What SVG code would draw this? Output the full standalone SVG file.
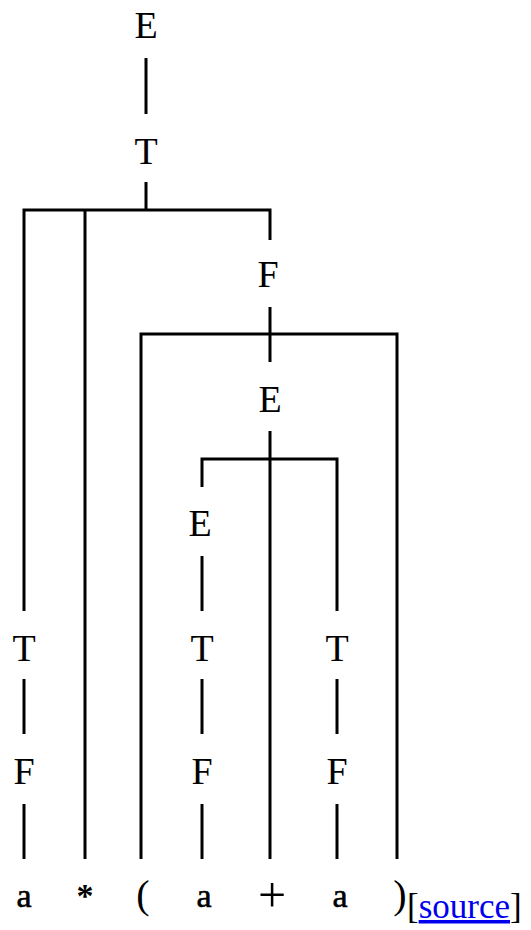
<svg xmlns="http://www.w3.org/2000/svg" width="531" height="930" viewBox="0 0 531 930">
<style>
  .nt { font-family: "Liberation Serif", "Times New Roman", serif; font-size: 38px; text-anchor: middle; fill: #000; }
  .tm { font-family: "Liberation Serif", "Times New Roman", serif; font-size: 34px; text-anchor: middle; fill: #000; }
  .heavy { stroke: #000; stroke-width: 0.6; }
  .bold { font-weight: bold; }
  .edge { fill: none; stroke: #000; stroke-width: 3; stroke-linecap: butt; stroke-linejoin: miter; }
  .src { font-family: "Liberation Serif", "Times New Roman", serif; font-size: 35px; fill: #000; }
  .link { fill: #0000EE; text-decoration: underline; }
</style>
<rect width="531" height="930" fill="#fff"/>
<g id="connectors">
  <path class="edge" d="M146 58 V114"/>
  <path class="edge" d="M146 182 V210"/>
  <path class="edge" d="M24 611 V210 H270 V240"/>
  <path class="edge" d="M85 210 V859"/>
  <path class="edge" d="M270 307 V362"/>
  <path class="edge" d="M141 859 V334 H397 V859"/>
  <path class="edge" d="M270 431 V859"/>
  <path class="edge" d="M202 487 V459 H337 V611"/>
  <path class="edge" d="M202 556 V611"/>
  <path class="edge" d="M24 679 V734"/>
  <path class="edge" d="M202 679 V734"/>
  <path class="edge" d="M337 679 V734"/>
  <path class="edge" d="M24 804 V859"/>
  <path class="edge" d="M202 804 V859"/>
  <path class="edge" d="M337 804 V859"/>
</g>
<g id="n-E0"><text class="nt" x="146" y="38">E</text></g>
<g id="n-T0"><text class="nt" x="146" y="164">T</text></g>
<g id="n-F2"><text class="nt" x="268" y="287">F</text></g>
<g id="n-E2"><text class="nt" x="270" y="412">E</text></g>
<g id="n-E3"><text class="nt" x="200" y="536">E</text></g>
<g id="n-T1"><text class="nt" x="24" y="661">T</text></g>
<g id="n-T3"><text class="nt" x="202" y="661">T</text></g>
<g id="n-T4"><text class="nt" x="337" y="661">T</text></g>
<g id="n-F1"><text class="nt" x="24" y="784">F</text></g>
<g id="n-F3"><text class="nt" x="202" y="784">F</text></g>
<g id="n-F4"><text class="nt" x="337" y="784">F</text></g>
<g id="t-a1"><text class="tm heavy" x="24" y="907">a</text></g>
<g id="t-star"><text class="tm bold" x="85" y="907">*</text></g>
<g id="t-lparen"><text class="tm" x="143" y="908" style="font-size:40px">(</text></g>
<g id="t-a3"><text class="tm heavy" x="204" y="907">a</text></g>
<g id="t-plus"><text class="tm" x="272" y="912" style="font-size:50px">+</text></g>
<g id="t-a4"><text class="tm heavy" x="340" y="907">a</text></g>
<g id="t-rparen"><text class="tm" x="400" y="908" style="font-size:40px">)</text></g>
<g id="source"><text class="src" x="407" y="918">[<tspan class="link">source</tspan>]</text></g>
</svg>
